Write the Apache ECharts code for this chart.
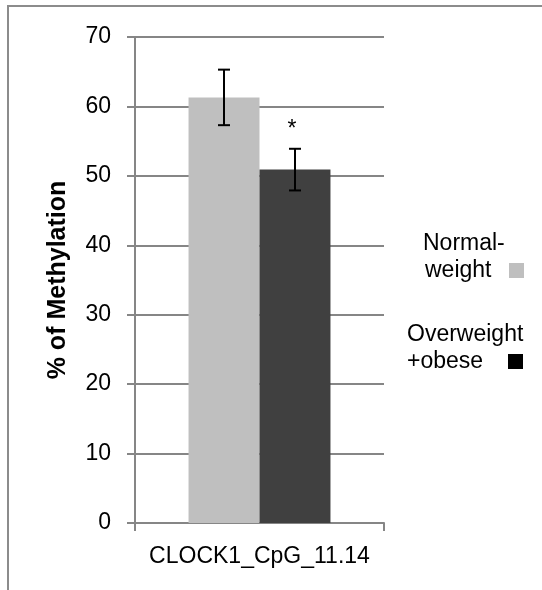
<!DOCTYPE html>
<html><head><meta charset="utf-8">
<script src="https://cdn.jsdelivr.net/npm/echarts@6/dist/echarts.min.js"></script>
<style>html,body{margin:0;padding:0;background:#fff}#c{width:542px;height:590px}</style>
</head><body><div id="c"></div>
<script>
const categories = ['CLOCK1_CpG_11.14'];
const legendLines = [['Normal-', 'weight'], ['Overweight', '+obese']];
const normalValues = [61.3];
const normalErrors = [4.0];
const obeseValues = [50.9];
const obeseErrors = [3.0];
const significance = ['', '*'];
const sigPosition = [56.7];
const yTicks = [0, 10, 20, 30, 40, 50, 60, 70];
const colors = ['#bfbfbf', '#404040'];
const legendSwatch = ['#bfbfbf', '#000000'];

const FONT = '"Liberation Sans", Arial, sans-serif';
const chart = echarts.init(document.getElementById('c'), null, {renderer: 'canvas'});
const CAT_GAP = 0.43;

function errSeries(vals, errs, idx) {
  return {
    type: 'custom',
    z: 10,
    data: vals.map((v, i) => [i, v - errs[i], v + errs[i], v]),
    renderItem: function (params, api) {
      const i = api.value(0);
      const bw = api.size([1, 0])[0] * (1 - CAT_GAP) / 2;
      const off = (idx === 0 ? -1 : 1) * bw / 2;
      const lo = api.coord([i, api.value(1)]);
      const hi = api.coord([i, api.value(2)]);
      const x = Math.round(lo[0] + off);
      const cap = 6;
      const st = {stroke: '#000', lineWidth: 2};
      const children = [
        {type: 'line', shape: {x1: x, y1: lo[1], x2: x, y2: hi[1]}, style: st},
        {type: 'line', shape: {x1: x - cap, y1: lo[1], x2: x + cap, y2: lo[1]}, style: st},
        {type: 'line', shape: {x1: x - cap, y1: hi[1], x2: x + cap, y2: hi[1]}, style: st}
      ];
      if (significance[idx]) {
        const sp = api.coord([i, sigPosition[i]]);
        children.push({type: 'text', style: {text: significance[idx], x: x - 3, y: sp[1], align: 'center', verticalAlign: 'middle', font: '23px ' + FONT, fill: '#000'}});
      }
      return {type: 'group', children: children};
    }
  };
}

const LF = '23px ' + FONT;
const legendGraphics = [
  {type: 'text', x: 423, y: 244, style: {text: legendLines[0][0], font: LF, fill: '#000', verticalAlign: 'middle'}},
  {type: 'text', x: 425, y: 271, style: {text: legendLines[0][1], font: LF, fill: '#000', verticalAlign: 'middle'}},
  {type: 'rect', shape: {x: 509, y: 263, width: 15, height: 15}, style: {fill: legendSwatch[0]}},
  {type: 'text', x: 407, y: 335, style: {text: legendLines[1][0], font: LF, fill: '#000', verticalAlign: 'middle'}},
  {type: 'text', x: 407, y: 362, style: {text: legendLines[1][1], font: LF, fill: '#000', verticalAlign: 'middle'}},
  {type: 'rect', shape: {x: 508, y: 354, width: 15, height: 15}, style: {fill: legendSwatch[1]}}
];

chart.setOption({
  animation: false,
  backgroundColor: '#fff',
  textStyle: {fontFamily: FONT},
  graphic: [
    {type: 'rect', shape: {x: 8, y: 6, width: 560, height: 600}, style: {fill: 'none', stroke: '#8c8c8c', lineWidth: 2}, z: -1},
    ...legendGraphics
  ],
  grid: {left: 135, top: 37, right: 158, bottom: 67},
  xAxis: {
    type: 'category', data: categories,
    axisLine: {lineStyle: {color: '#868686', width: 2}},
    axisTick: {show: true, length: 8, lineStyle: {color: '#868686', width: 2}},
    axisLabel: {color: '#000', fontSize: 23, margin: 22, fontFamily: FONT}
  },
  yAxis: {
    type: 'value', min: 0, max: 70, interval: 10,
    name: '% of Methylation', nameLocation: 'middle', nameGap: 64,
    nameTextStyle: {color: '#000', fontSize: 25, fontWeight: 'bold', fontFamily: FONT},
    axisLine: {show: true, lineStyle: {color: '#868686', width: 2}},
    axisTick: {show: true, length: 8, lineStyle: {color: '#868686', width: 2}},
    axisLabel: {color: '#000', fontSize: 23, margin: 24, fontFamily: FONT,
      formatter: v => yTicks.includes(v) ? String(v) : ''},
    splitLine: {lineStyle: {color: '#868686', width: 2}}
  },
  series: [
    {name: legendLines[0].join(''), type: 'bar', data: normalValues, barGap: '0%', barCategoryGap: (CAT_GAP * 100) + '%', itemStyle: {color: colors[0]}},
    {name: legendLines[1].join(''), type: 'bar', data: obeseValues, barGap: '0%', barCategoryGap: (CAT_GAP * 100) + '%', itemStyle: {color: colors[1]}},
    errSeries(normalValues, normalErrors, 0),
    errSeries(obeseValues, obeseErrors, 1)
  ]
});
</script></body></html>
